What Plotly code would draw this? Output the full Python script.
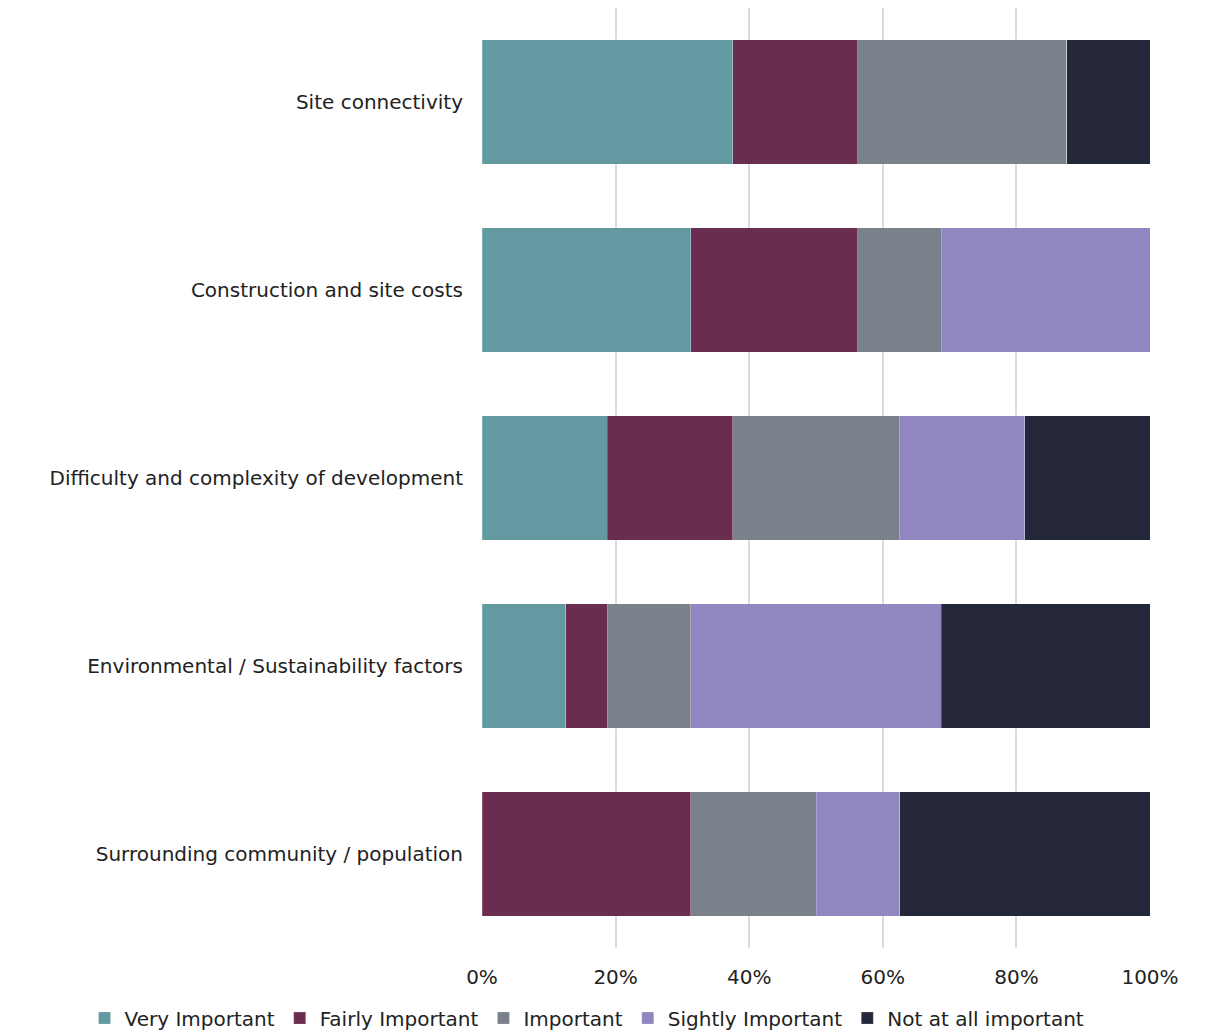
import plotly.graph_objects as go

categories = [
    "Site connectivity",
    "Construction and site costs",
    "Difficulty and complexity of development",
    "Environmental / Sustainability factors",
    "Surrounding community / population",
]
very_important = [37.5, 31.25, 18.75, 12.5, 0]
fairly_important = [18.75, 25, 18.75, 6.25, 31.25]
important = [31.25, 12.5, 25, 12.5, 18.75]
slightly_important = [0, 31.25, 18.75, 37.5, 12.5]
not_important = [12.5, 0, 18.75, 31.25, 37.5]

series_names = ["Very Important", "Fairly Important", "Important", "Sightly Important", "Not at all important"]
series_values = [very_important, fairly_important, important, slightly_important, not_important]
colors = ["#6399A0", "#6B2D4F", "#7B818A", "#9187C0", "#25283B"]

tick_vals = [0, 20, 40, 60, 80, 100]
tick_text = ["0%", "20%", "40%", "60%", "80%", "100%"]

FONT = "DejaVu Sans"
FS = 20

fig = go.Figure()
for name, vals, col in zip(series_names, series_values, colors):
    fig.add_trace(go.Bar(
        y=categories, x=vals, name=name, orientation="h",
        marker=dict(color=col, line=dict(color="rgba(255,255,255,0.4)", width=0.5)),
        hoverinfo="x+name",
    ))

fig.update_layout(
    barmode="stack",
    bargap=0.337,
    width=1206, height=1022,
    margin=dict(l=474, r=64, t=0, b=82, autoexpand=False),
    paper_bgcolor="white", plot_bgcolor="white",
    font=dict(family=FONT, size=FS, color="#222222"),
    legend=dict(orientation="h", x=-0.595, xanchor="left",
                y=-0.0745, yanchor="middle",
                font=dict(family=FONT, size=FS, color="#222222"),
                itemwidth=30, tracegroupgap=0, traceorder="normal"),
    xaxis=dict(range=[0, 100], tickvals=tick_vals, ticktext=tick_text,
               showgrid=True, gridcolor="#D9D9D9", gridwidth=2, zeroline=False,
               showline=False, ticks="", tickfont=dict(size=FS), ticklabelstandoff=15),
    yaxis=dict(autorange="reversed", showgrid=False, showline=False, ticks="",
               ticklabelstandoff=18, tickfont=dict(size=FS)),
)

fig.write_html("out.html")
